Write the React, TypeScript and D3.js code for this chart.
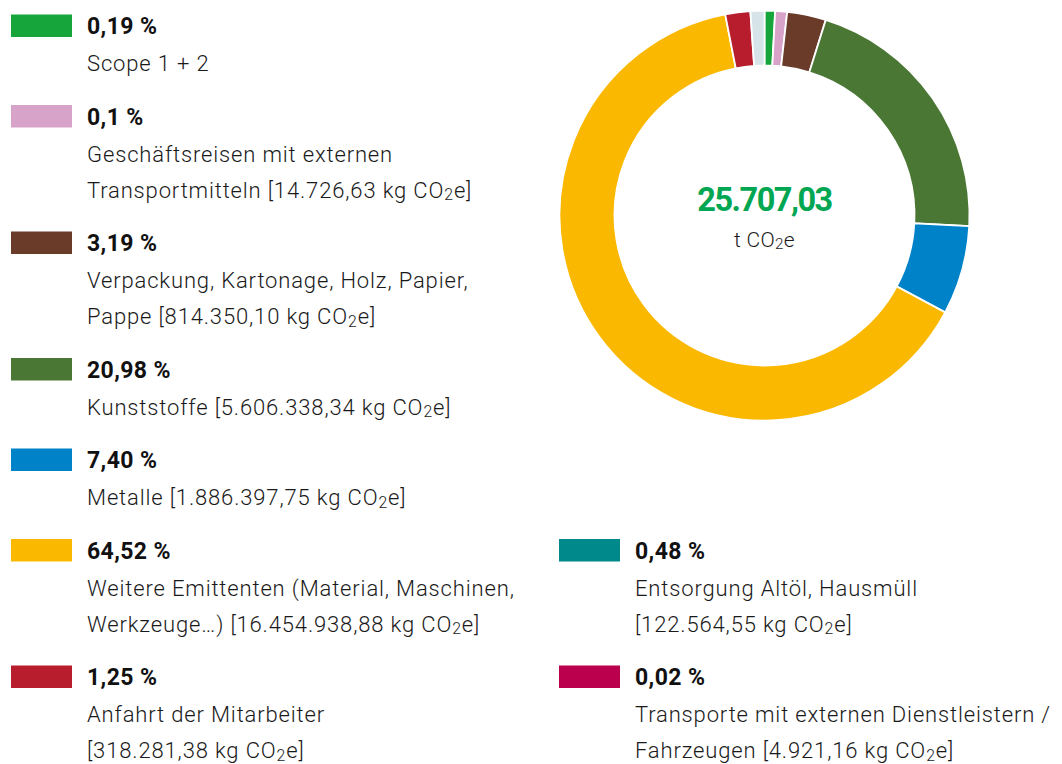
import React from "react";
import * as d3 from "d3";

// Donut slices, clockwise from 12 o'clock (shares, %)
const sliceNames = [
  "Scope 1 + 2",
  "Geschäftsreisen",
  "Verpackung",
  "Kunststoffe",
  "Metalle",
  "Weitere Emittenten",
  "Anfahrt der Mitarbeiter",
  "Entsorgung / Transporte",
];
const sliceValues = [0.83, 0.94, 3.06, 21.0, 7.0, 64.1, 1.97, 1.1];
const sliceColors = ["#16a53b", "#d8a3c9", "#6b3b2a", "#4b7734", "#0082c9", "#fbb800", "#b71d2c", "#d6e3e8"];

// Legend
const legendPct = ["0,19 %", "0,1 %", "3,19 %", "20,98 %", "7,40 %", "64,52 %", "1,25 %", "0,48 %", "0,02 %"];
const legendLines: string[][] = [
  ["Scope 1 + 2"],
  ["Geschäftsreisen mit externen", "Transportmitteln [14.726,63 kg CO2e]"],
  ["Verpackung, Kartonage, Holz, Papier,", "Pappe [814.350,10 kg CO2e]"],
  ["Kunststoffe [5.606.338,34 kg CO2e]"],
  ["Metalle [1.886.397,75 kg CO2e]"],
  ["Weitere Emittenten (Material, Maschinen,", "Werkzeuge…) [16.454.938,88 kg CO2e]"],
  ["Anfahrt der Mitarbeiter", "[318.281,38 kg CO2e]"],
  ["Entsorgung Altöl, Hausmüll", "[122.564,55 kg CO2e]"],
  ["Transporte mit externen Dienstleistern /", "Fahrzeugen [4.921,16 kg CO2e]"],
];
const legendColors = ["#16a53b", "#d8a3c9", "#6b3b2a", "#4b7734", "#0082c9", "#fbb800", "#b71d2c", "#00898b", "#bb004e"];
const leftCount = 7;

const totalValue = "25.707,03";
const totalUnit = "t CO2e";

const FONT = "Roboto, 'Noto Sans', sans-serif";

function renderCO2(s: string, fs: number) {
  const parts = s.split("CO2e");
  const out: React.ReactNode[] = [];
  parts.forEach((p, i) => {
    out.push(<tspan key={"p" + i}>{p}</tspan>);
    if (i < parts.length - 1) {
      out.push(<tspan key={"c" + i}>CO</tspan>);
      out.push(
        <tspan key={"s" + i} fontSize={fs * 0.72} dy={fs * 0.12}>
          2
        </tspan>
      );
      out.push(
        <tspan key={"e" + i} dy={-fs * 0.12}>
          e
        </tspan>
      );
    }
  });
  return out;
}

export default function App() {
  const W = 1062;
  const H = 764;
  const cx = 764.5;
  const cy = 215.5;
  const rOuter = 205;
  const rInner = 150;

  const pie = d3
    .pie<number>()
    .sort(null)
    .value((d) => d)
    .startAngle(0)
    .endAngle(2 * Math.PI);
  const arcs = pie(sliceValues);
  const arc = d3.arc<d3.PieArcDatum<number>>().innerRadius(rInner).outerRadius(rOuter);

  const pctFs = 23;
  const lblFs = 22;
  const firstLine = 38;
  const lineGap = 36;
  const entryGap = 52.5;

  const ys: number[] = [];
  let y = 26;
  for (let i = 0; i < leftCount; i++) {
    ys.push(y);
    y += firstLine + lineGap * (legendLines[i].length - 1) + entryGap;
  }
  for (let i = leftCount; i < legendPct.length; i++) {
    ys.push(ys[i - 2]);
  }

  return (
    <svg width={W} height={H} style={{ position: "absolute", left: 0, top: 0, display: "block" }}>
      <rect width={W} height={H} fill="#fff" />
      <g transform={`translate(${cx},${cy})`}>
        {arcs.map((a, i) => (
          <path key={sliceNames[i]} d={arc(a) || ""} fill={sliceColors[i]} stroke="#fff" strokeWidth={1.8} />
        ))}
        <text
          y={-5}
          textAnchor="middle"
          fontFamily={FONT}
          fontWeight={700}
          fontSize={32.5}
          letterSpacing={-1.5}
          fill="#00a651"
        >
          {totalValue}
        </text>
        <text y={31} textAnchor="middle" fontFamily={FONT} fontWeight={300} fontSize={21} letterSpacing={0.3} fill="#1a1a1a">
          {renderCO2(totalUnit, 21)}
        </text>
      </g>
      {legendPct.map((p, i) => {
        const left = i < leftCount;
        const sx = left ? 11 : 559;
        const tx = left ? 87 : 635;
        const yc = ys[i];
        return (
          <g key={"lg" + i}>
            <rect x={sx} y={yc - 11.5} width={61} height={22.5} fill={legendColors[i]} />
            <text x={tx} y={yc + 8} fontFamily={FONT} fontWeight={700} fontSize={pctFs} letterSpacing={0.4} fill="#111">
              {p}
            </text>
            {legendLines[i].map((l, j) => (
              <text
                key={j}
                x={tx}
                y={yc + firstLine + j * lineGap + 7}
                fontFamily={FONT}
                fontWeight={300}
                fontSize={lblFs}
                letterSpacing={0.85}
                fill="#1a1a1a"
              >
                {renderCO2(l, lblFs)}
              </text>
            ))}
          </g>
        );
      })}
    </svg>
  );
}
